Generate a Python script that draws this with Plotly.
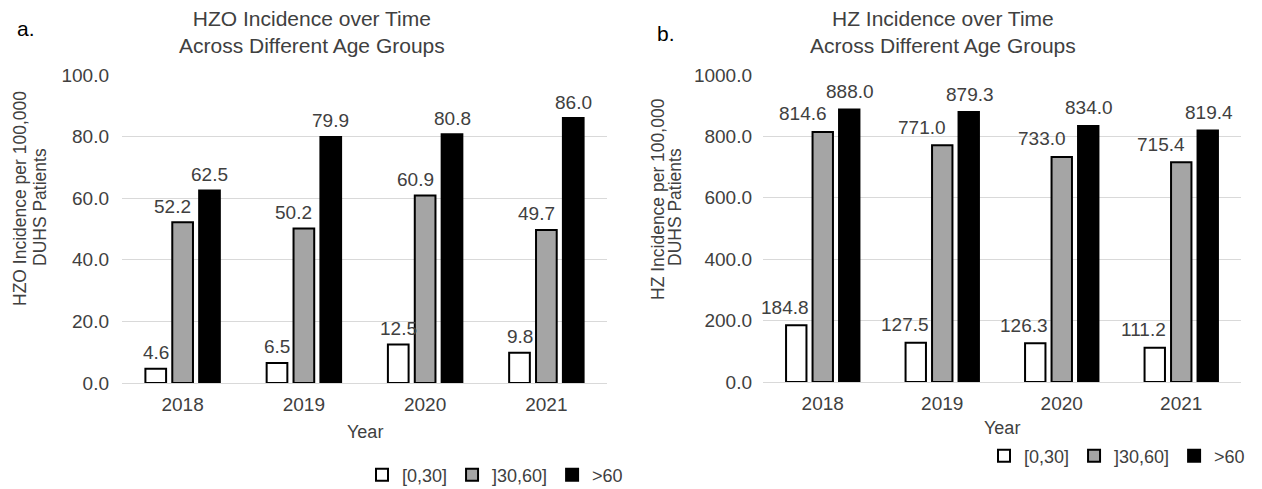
import plotly.graph_objects as go

# ---- data ----
years = ["2018", "2019", "2020", "2021"]
age_groups = ["[0,30]", "]30,60]", ">60"]

hzo_0_30 = [4.6, 6.5, 12.5, 9.8]
hzo_30_60 = [52.2, 50.2, 60.9, 49.7]
hzo_over_60 = [62.5, 79.9, 80.8, 86.0]

hz_0_30 = [184.8, 127.5, 126.3, 111.2]
hz_30_60 = [814.6, 771.0, 733.0, 715.4]
hz_over_60 = [888.0, 879.3, 834.0, 819.4]

# ---- style ----
W, H = 1262, 489
OFF = 8  # page body margin
FONT = "Liberation Sans, Arial, sans-serif"
TXT = "#404040"
GRID = "#d9d9d9"
fills = ["#ffffff", "#a5a5a5", "#000000"]
BARGAP = 0.335
BARGROUPGAP = 0.23
slot = (1 - BARGAP) / 3


def px(x):
    return (x - OFF) / W


def py(y):
    return 1 - (y - OFF) / H


idx = list(range(len(years)))
fig = go.Figure()

panels = [
    dict(series=[hzo_0_30, hzo_30_60, hzo_over_60], xa="x", ya="y", leg="legend",
         dx=[0, -10, 0], dy=16),
    dict(series=[hz_0_30, hz_30_60, hz_over_60], xa="x2", ya="y2", leg="legend2",
         dx=[-11, -20, 1], dy=18),
]

annotations = []
for p in panels:
    for j, (vals, name, col) in enumerate(zip(p["series"], age_groups, fills)):
        fig.add_trace(go.Bar(
            x=idx, y=vals, name=name, xaxis=p["xa"], yaxis=p["ya"], legend=p["leg"],
            marker=dict(color=col, line=dict(color="#000000", width=2)),
        ))
        for i, v in enumerate(vals):
            annotations.append(dict(
                xref=p["xa"], yref=p["ya"], x=i + (j - 1) * slot, y=v,
                text=f"{v:.1f}", showarrow=False, xanchor="center", yanchor="middle",
                xshift=p["dx"][j], yshift=p["dy"],
                font=dict(size=19, color=TXT, family=FONT),
            ))

# titles, panel letters, axis titles
for cx, letter, lx, ly, t1 in [(312, "a.", 26, 28, "HZO Incidence over Time"),
                               (943, "b.", 666, 33, "HZ Incidence over Time")]:
    annotations.append(dict(xref="paper", yref="paper", x=px(cx), y=py(31.5),
                            text=t1 + "<br>Across Different Age Groups",
                            showarrow=False, xanchor="center", yanchor="middle",
                            font=dict(size=21, color=TXT, family=FONT)))
    annotations.append(dict(xref="paper", yref="paper", x=px(lx), y=py(ly), text=letter,
                            showarrow=False, xanchor="center", yanchor="middle",
                            font=dict(size=21, color="#000000", family=FONT)))

for x1, x2, ytxt in [(20, 40, "HZO Incidence per 100,000"), (658, 675, "HZ Incidence per 100,000")]:
    annotations.append(dict(xref="paper", yref="paper", x=px(x1), y=py(199), text=ytxt,
                            showarrow=False, textangle=-90, xanchor="center", yanchor="middle",
                            font=dict(size=17.5, color=TXT, family=FONT)))
    annotations.append(dict(xref="paper", yref="paper", x=px(x2), y=py(207), text="DUHS Patients",
                            showarrow=False, textangle=-90, xanchor="center", yanchor="middle",
                            font=dict(size=17.5, color=TXT, family=FONT)))

for xc, yy in [((122 + 607) / 2, 432), ((763 + 1241) / 2, 428)]:
    annotations.append(dict(xref="paper", yref="paper", x=px(xc), y=py(yy), text="Year",
                            showarrow=False, xanchor="center", yanchor="middle",
                            font=dict(size=18, color=TXT, family=FONT)))

xaxis_common = dict(range=[-0.5, len(years) - 0.5], tickvals=idx, ticktext=years,
                    showgrid=False, zeroline=False, showline=False, ticks="",
                    tickfont=dict(size=19, color=TXT, family=FONT), ticklabelstandoff=8,
                    fixedrange=True, automargin=False)
yaxis_common = dict(tickformat=".1f", gridcolor=GRID, gridwidth=1, zeroline=True,
                    zerolinecolor=GRID, zerolinewidth=1, showline=False, ticks="",
                    tickfont=dict(size=19, color=TXT, family=FONT), fixedrange=True,
                    automargin=False)

legend_common = dict(orientation="h", yanchor="middle",
                     font=dict(size=18, color=TXT, family=FONT),
                     bgcolor="rgba(0,0,0,0)", itemwidth=30, traceorder="normal")

fig.update_layout(
    width=W, height=H, autosize=False,
    margin=dict(l=0, r=0, t=0, b=0, pad=0, autoexpand=False),
    paper_bgcolor="white", plot_bgcolor="white",
    barmode="group", bargap=BARGAP, bargroupgap=BARGROUPGAP,
    font=dict(family=FONT, color=TXT),
    xaxis=dict(domain=[px(122), px(607)], anchor="y", **xaxis_common),
    yaxis=dict(domain=[py(383), py(75)], anchor="x", range=[0, 100], dtick=20,
               ticklabelstandoff=12, **yaxis_common),
    xaxis2=dict(domain=[px(763), px(1241)], anchor="y2", **xaxis_common),
    yaxis2=dict(domain=[py(382), py(75)], anchor="x2", range=[0, 1000], dtick=200,
                ticklabelstandoff=10, **yaxis_common),
    legend=dict(x=px(495), y=py(475), xanchor="center", **legend_common),
    legend2=dict(x=px(1250), y=py(456), xanchor="right", **legend_common),
    annotations=annotations,
    showlegend=True,
)

fig.write_html("out.html")
